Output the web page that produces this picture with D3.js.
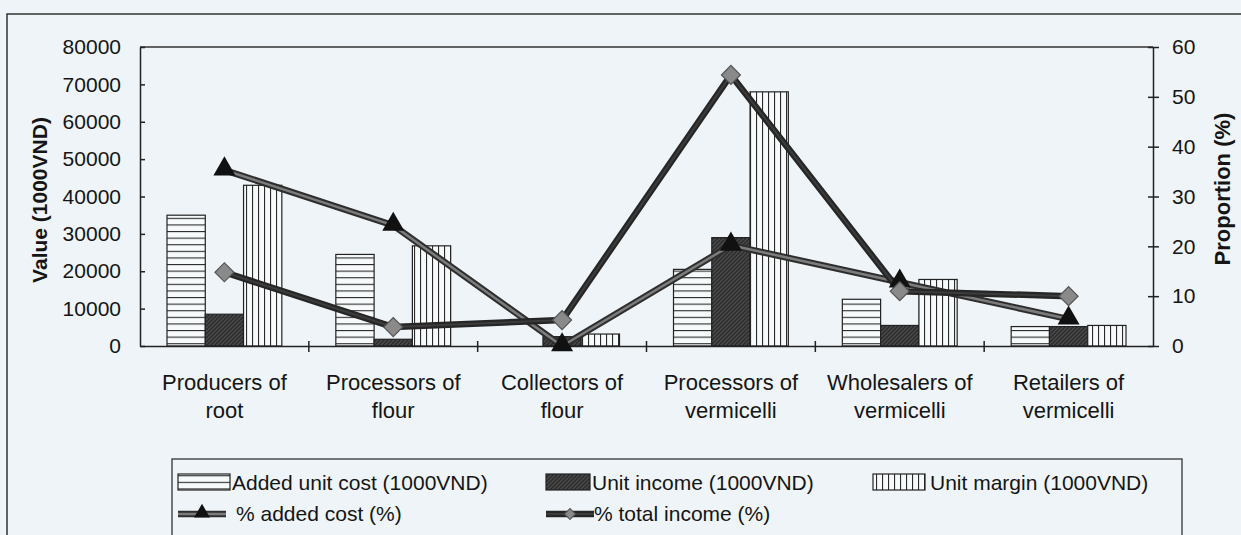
<!DOCTYPE html>
<html>
<head>
<meta charset="utf-8">
<script src="https://cdn.jsdelivr.net/npm/d3@7"></script>
<style>
    body { margin: 0; background: #eef4f7; }
    svg text { font-family: "Liberation Sans", Arial, sans-serif; fill: #151515; }
</style>
</head>
<body>
<svg id="chart" width="1241" height="535"></svg>
<script>
// chain actors (two lines each on the x axis)
let categories = ["Producers of root", "Processors of flour", "Collectors of flour",
    "Processors of vermicelli", "Wholesalers of vermicelli", "Retailers of vermicelli"];
let catLine1 = ["Producers of", "Processors of", "Collectors of", "Processors of", "Wholesalers of", "Retailers of"];
let catLine2 = ["root", "flour", "flour", "vermicelli", "vermicelli", "vermicelli"];

// bars, 1000VND
let addedCost = [35000, 24500, 0, 20500, 12500, 5200];
let unitIncome = [8500, 1800, 2500, 29000, 5500, 5200];
let unitMargin = [43000, 26800, 3200, 68000, 17800, 5500];

// lines, %
let pctAddedCost = [35.3, 24.2, 0, 20.2, 12.8, 5.4];
let pctTotalIncome = [14.8, 3.8, 5.2, 54.4, 11, 10];

let leftTicks = [0, 10000, 20000, 30000, 40000, 50000, 60000, 70000, 80000];
let rightTicks = [0, 10, 20, 30, 40, 50, 60];

let barSeries = ["Added unit cost (1000VND)", "Unit income (1000VND)", "Unit margin (1000VND)"];
let lineSeries = ["% added cost (%)", "% total income (%)"];

var svg = d3.select("#chart");
var plot = { left: 140, right: 1153, top: 47, bottom: 346 };

// patterns used by the bars
var defs = svg.append("defs");
var ph = defs.append("pattern").attr("id", "hatchH").attr("patternUnits", "userSpaceOnUse")
    .attr("width", 8).attr("height", 6.6);
ph.append("rect").attr("width", 8).attr("height", 6.6).attr("fill", "#f7fafb");
ph.append("line").attr("x1", 0).attr("x2", 8).attr("y1", 0.5).attr("y2", 0.5)
    .attr("stroke", "#2a2a2a").attr("stroke-width", 1.2);

var pv = defs.append("pattern").attr("id", "hatchV").attr("patternUnits", "userSpaceOnUse")
    .attr("width", 6).attr("height", 8);
pv.append("rect").attr("width", 6).attr("height", 8).attr("fill", "#f7fafb");
pv.append("line").attr("x1", 0.5).attr("x2", 0.5).attr("y1", 0).attr("y2", 8)
    .attr("stroke", "#2a2a2a").attr("stroke-width", 1.2);

var pd = defs.append("pattern").attr("id", "hatchD").attr("patternUnits", "userSpaceOnUse")
    .attr("width", 4).attr("height", 4);
pd.append("rect").attr("width", 4).attr("height", 4).attr("fill", "#4a4a4a");
pd.append("path").attr("d", "M0,4 L4,0 M-1,1 L1,-1 M3,5 L5,3")
    .attr("stroke", "#2a2a2a").attr("stroke-width", 1.3);

let fills = ["url(#hatchH)", "url(#hatchD)", "url(#hatchV)"];

// frame of the figure
svg.append("path")
    .attr("d", "M7,535 L7,14 L1241,14")
    .attr("fill", "none").attr("stroke", "#333").attr("stroke-width", 1.5);

// scales
var x = d3.scaleBand().domain(categories).range([plot.left, plot.right]);
var xInner = d3.scaleBand().domain(barSeries).range([27, x.bandwidth() - 27]);
var yLeft = d3.scaleLinear().domain([0, 80000]).range([plot.bottom, plot.top]);
var yRight = d3.scaleLinear().domain([0, 60]).range([plot.bottom, plot.top]);

// top border of the plot area
svg.append("line")
    .attr("x1", plot.left).attr("x2", plot.right)
    .attr("y1", plot.top).attr("y2", plot.top)
    .attr("stroke", "#333").attr("stroke-width", 1.5);

// bars
let barData = [addedCost, unitIncome, unitMargin];
barData.forEach((vals, s) => {
    svg.append("g").selectAll("rect")
        .data(vals)
        .enter().append("rect")
        .attr("x", (d, i) => x(categories[i]) + xInner(barSeries[s]))
        .attr("width", xInner.bandwidth())
        .attr("y", d => yLeft(d))
        .attr("height", d => plot.bottom - yLeft(d))
        .attr("fill", fills[s])
        .attr("stroke", d => d > 0 ? "#222" : "none")
        .attr("stroke-width", 1.2);
});

// axes
var leftAxis = d3.axisLeft(yLeft).tickValues(leftTicks).tickFormat(d3.format("d"))
    .tickSizeInner(5).tickSizeOuter(0).tickPadding(14);
var gl = svg.append("g").attr("transform", `translate(${plot.left},0)`).call(leftAxis);
gl.selectAll(".tick line").attr("x2", 5);

var rightAxis = d3.axisRight(yRight).tickValues(rightTicks).tickSizeInner(6).tickSizeOuter(0).tickPadding(13);
var gr = svg.append("g").attr("transform", `translate(${plot.right},0)`).call(rightAxis);
gr.selectAll(".tick line").attr("x1", -5);

var bottomAxis = d3.axisBottom(x).tickSizeInner(6).tickSizeOuter(0).tickFormat("");
var gb = svg.append("g").attr("transform", `translate(0,${plot.bottom})`).call(bottomAxis);
// ticks sit between the groups, not under them
gb.selectAll(".tick").attr("transform", d => `translate(${x(d) + x.bandwidth()},0)`);
gb.selectAll(".tick line").attr("y1", -5);
gb.selectAll(".tick").filter(d => d === categories[categories.length - 1]).remove();

[gl, gr, gb].forEach(g => {
    g.selectAll(".domain").attr("stroke", "#222").attr("stroke-width", 1.5);
    g.selectAll(".tick line").attr("stroke", "#222").attr("stroke-width", 1.5);
    g.selectAll("text").attr("font-size", 21).attr("fill", "#151515")
        .style("font-family", "'Liberation Sans', Arial, sans-serif");
});

// category labels
let catG = svg.append("g");
categories.forEach((c, i) => {
    let cx = x(c) + x.bandwidth() / 2;
    catG.append("text").attr("x", cx).attr("y", 390).attr("text-anchor", "middle")
        .attr("font-size", 22).text(catLine1[i]);
    catG.append("text").attr("x", cx).attr("y", 418).attr("text-anchor", "middle")
        .attr("font-size", 22).text(catLine2[i]);
});

// axis titles
svg.append("text")
    .attr("transform", "translate(47,200) rotate(-90)")
    .attr("text-anchor", "middle").attr("font-size", 21).attr("font-weight", "bold")
    .text("Value (1000VND)");
svg.append("text")
    .attr("transform", "translate(1230,189) rotate(-90)")
    .attr("text-anchor", "middle").attr("font-size", 22).attr("font-weight", "bold")
    .text("Proportion (%)");

// lines
var cx = c => x(c) + x.bandwidth() / 2;
var lineAdded = d3.line().x((d, i) => cx(categories[i])).y(d => yRight(d));

function drawTriangleLine(g, vals, line) {
    g.append("path").attr("d", line(vals)).attr("fill", "none")
        .attr("stroke", "#2e2e2e").attr("stroke-width", 6.5).attr("stroke-linejoin", "round");
    g.append("path").attr("d", line(vals)).attr("fill", "none")
        .attr("stroke", "#7c7c7c").attr("stroke-width", 2.5).attr("stroke-linejoin", "round");
}
function drawDiamondLine(g, vals, line) {
    g.append("path").attr("d", line(vals)).attr("fill", "none")
        .attr("stroke", "#262626").attr("stroke-width", 6.5).attr("stroke-linejoin", "round");
    g.append("path").attr("d", line(vals)).attr("fill", "none")
        .attr("stroke", "#3c3c3c").attr("stroke-width", 2).attr("stroke-linejoin", "round");
}

var triSym = d3.symbol().type(d3.symbolTriangle).size(210);
var diaSym = d3.symbol().type(d3.symbolSquare).size(180);

var lineG = svg.append("g");
drawTriangleLine(lineG, pctAddedCost, lineAdded);
drawDiamondLine(lineG, pctTotalIncome, lineAdded);

lineG.selectAll(".tri")
    .data(pctAddedCost)
    .enter().append("path")
    .attr("class", "tri")
    .attr("d", triSym)
    .attr("transform", (d, i) => `translate(${cx(categories[i])},${yRight(d) - 1})`)
    .attr("fill", "#111");

lineG.selectAll(".dia")
    .data(pctTotalIncome)
    .enter().append("path")
    .attr("class", "dia")
    .attr("d", diaSym)
    .attr("transform", (d, i) => `translate(${cx(categories[i])},${yRight(d)}) rotate(45)`)
    .attr("fill", "#8a8a8a").attr("stroke", "#555").attr("stroke-width", 1.2);

// legend
var legend = svg.append("g");
legend.append("rect")
    .attr("x", 172).attr("y", 459).attr("width", 1010).attr("height", 100)
    .attr("fill", "none").attr("stroke", "#333").attr("stroke-width", 1.3);

let swatchX = [178, 546, 873];
let textX = [232, 592, 930];
barSeries.forEach((s, i) => {
    legend.append("rect")
        .attr("x", swatchX[i]).attr("y", 474).attr("width", i === 1 ? 44 : 52).attr("height", 16)
        .attr("fill", fills[i]).attr("stroke", "#222").attr("stroke-width", 1.2);
    legend.append("text").attr("x", textX[i]).attr("y", 490)
        .attr("font-size", 21).text(s);
});

let lineKeyX = [178, 546];
let lineTextX = [236, 594];
lineSeries.forEach((s, i) => {
    let kl = d3.line();
    let pts = [[lineKeyX[i], 514], [lineKeyX[i] + 48, 514]];
    if (i === 0) {
        drawTriangleLine(legend, pts, kl);
        legend.append("path").attr("d", d3.symbol().type(d3.symbolTriangle).size(110))
            .attr("transform", `translate(${lineKeyX[i] + 24},513)`).attr("fill", "#111");
    } else {
        drawDiamondLine(legend, pts, kl);
        legend.append("path").attr("d", d3.symbol().type(d3.symbolSquare).size(60))
            .attr("transform", `translate(${lineKeyX[i] + 24},514) rotate(45)`)
            .attr("fill", "#8a8a8a").attr("stroke", "#555");
    }
    legend.append("text").attr("x", lineTextX[i]).attr("y", 521)
        .attr("font-size", 21).text(s);
});
</script>
</body>
</html>
